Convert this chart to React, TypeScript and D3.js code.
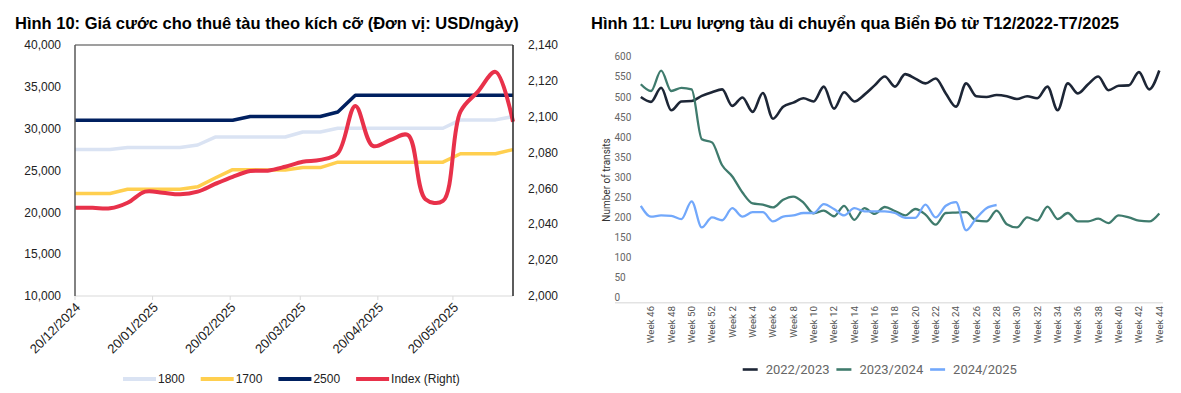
import React from "react";
import * as d3 from "d3";

// ---- Hình 10 data (weekly) ----
const rateDates = [
  "2024-12-20", "2024-12-27", "2025-01-03", "2025-01-10", "2025-01-17", "2025-01-24",
  "2025-01-31", "2025-02-07", "2025-02-14", "2025-02-21", "2025-02-28", "2025-03-07",
  "2025-03-14", "2025-03-21", "2025-03-28", "2025-04-04", "2025-04-11", "2025-04-18",
  "2025-04-25", "2025-05-02", "2025-05-09", "2025-05-16", "2025-05-23", "2025-05-30",
  "2025-06-06", "2025-06-13",
];
const size1800 = [
  27500, 27500, 27500, 27750, 27750, 27750, 27750, 28050, 29000, 29000, 29000, 29000, 29000,
  29600, 29600, 30050, 30050, 30050, 30050, 30050, 30050, 30050, 31050, 31050, 31050, 31450,
];
const size1700 = [
  22250, 22250, 22250, 22750, 22750, 22750, 22750, 23050, 24100, 25100, 25100, 25050, 25050,
  25350, 25350, 26000, 26000, 26000, 26000, 26000, 26000, 26000, 27000, 27000, 27000, 27500,
];
const size2500 = [
  31000, 31000, 31000, 31000, 31000, 31000, 31000, 31000, 31000, 31000, 31450, 31450, 31450,
  31450, 31450, 32000, 34000, 34000, 34000, 34000, 34000, 34000, 34000, 34000, 34000, 34000,
];
const indexRight = [
  2049.2, 2049.2, 2048.9, 2052, 2058.2, 2057.6, 2056.7, 2058.2, 2062.5, 2066.5, 2069.7, 2069.9,
  2072.1, 2074.9, 2075.9, 2079.6, 2106, 2083.7, 2087, 2089.8, 2054, 2053, 2102.8, 2114, 2125, 2097.2,
];
const leftTicks = [10000, 15000, 20000, 25000, 30000, 35000, 40000];
const rightTicks = [2000, 2020, 2040, 2060, 2080, 2100, 2120, 2140];
const dateTicks = ["2024-12-20", "2025-01-20", "2025-02-20", "2025-03-20", "2025-04-20", "2025-05-20"];

// ---- Hình 11 data (weekly transits) ----
const weeks = [
  "Week 45", "Week 46", "Week 47", "Week 48", "Week 49", "Week 50", "Week 51", "Week 52",
  "Week 1", "Week 2", "Week 3", "Week 4", "Week 5", "Week 6", "Week 7", "Week 8", "Week 9",
  "Week 10", "Week 11", "Week 12", "Week 13", "Week 14", "Week 15", "Week 16", "Week 17",
  "Week 18", "Week 19", "Week 20", "Week 21", "Week 22", "Week 23", "Week 24", "Week 25",
  "Week 26", "Week 27", "Week 28", "Week 29", "Week 30", "Week 31", "Week 32", "Week 33",
  "Week 34", "Week 35", "Week 36", "Week 37", "Week 38", "Week 39", "Week 40", "Week 41",
  "Week 42", "Week 43", "Week 44",
];
const transits2022 = [
  500, 488, 523, 467, 489, 490, 503, 512, 519, 478, 499, 463, 510, 446, 476, 486, 497, 489,
  526, 471, 512, 489, 506, 529, 551, 526, 557, 546, 534, 546, 509, 476, 534, 502, 500, 505,
  502, 495, 502, 497, 526, 467, 534, 509, 532, 551, 517, 528, 529, 562, 519, 566,
];
const transits2023 = [
  532, 515, 566, 515, 523, 519, 395, 387, 330, 302, 262, 235, 232, 225, 244, 252, 237, 210,
  217, 203, 229, 194, 223, 209, 226, 216, 205, 221, 207, 182, 211, 212, 213, 192, 190, 217,
  183, 175, 200, 192, 227, 196, 211, 190, 190, 197, 186, 205, 200, 192, 190, 210,
];
const transits2024 = [
  229, 202, 205, 204, 196, 240, 175, 200, 193, 223, 202, 213, 213, 190, 202, 205, 211, 211,
  233, 221, 205, 223, 215, 215, 215, 211, 199, 199, 232, 200, 229, 238, 168, 198, 223, 231,
];
const transitTicks = [0, 50, 100, 150, 200, 250, 300, 350, 400, 450, 500, 550, 600];
const weekLabels = weeks.filter((w) => +w.split(" ")[1] % 2 === 0);

const ARIAL = "'Liberation Sans', Arial, sans-serif";
const ROBOTO = "Roboto, 'Liberation Sans', sans-serif";

const parse = d3.utcParse("%Y-%m-%d");
const fmtDate = d3.utcFormat("%d/%m/%Y");
const fmtNum = d3.format(",");

function RateChart() {
  const x = d3
    .scaleUtc()
    .domain([parse(rateDates[0])!, parse(rateDates[rateDates.length - 1])!])
    .range([75, 513]);
  const yL = d3.scaleLinear().domain([10000, 40000]).range([296, 45]);
  const yR = d3.scaleLinear().domain([2000, 2140]).range([296, 45]);

  const lineL = d3
    .line<number>()
    .x((_, i) => x(parse(rateDates[i])!))
    .y((d) => yL(d));
  const lineR = d3
    .line<number>()
    .x((_, i) => x(parse(rateDates[i])!))
    .y((d) => yR(d))
    .curve(d3.curveCatmullRom.alpha(0.5));

  const series = [
    { name: "1800", data: size1800, color: "#dae3f3" },
    { name: "1700", data: size1700, color: "#ffcf4f" },
    { name: "2500", data: size2500, color: "#002060" },
  ];
  const legend = [
    { name: "1800", color: "#dae3f3" },
    { name: "1700", color: "#ffcf4f" },
    { name: "2500", color: "#002060" },
    { name: "Index (Right)", color: "#e8314a" },
  ];

  return (
    <g fontFamily={ARIAL}>
      <text x={15} y={29} fontSize={16.5} fontWeight="bold" fill="#000">
        Hình 10: Giá cước cho thuê tàu theo kích cỡ (Đơn vị: USD/ngày)
      </text>
      {leftTicks.map((t) => (
        <text key={t} x={61} y={yL(t)} dy="0.35em" textAnchor="end" fontSize={12} fill="#222">
          {fmtNum(t)}
        </text>
      ))}
      {rightTicks.map((t) => (
        <text key={t} x={528} y={yR(t)} dy="0.35em" textAnchor="start" fontSize={12} fill="#222">
          {fmtNum(t)}
        </text>
      ))}
      <line x1={75} x2={513} y1={296} y2={296} stroke="#d9d9d9" strokeWidth={1.2} />
      {dateTicks.map((d) => {
        const px = x(parse(d)!);
        return (
          <g key={d}>
            <line x1={px} x2={px} y1={296} y2={300} stroke="#d9d9d9" />
            <text
              transform={`translate(${px + 3},${305}) rotate(-45)`}
              textAnchor="end"
              dy="0.35em"
              fontSize={13}
              fill="#222"
            >
              {fmtDate(parse(d)!)}
            </text>
          </g>
        );
      })}
      {series.map((s) => (
        <path key={s.name} d={lineL(s.data)!} fill="none" stroke={s.color} strokeWidth={3.5} strokeLinejoin="round" />
      ))}
      <path d={lineR(indexRight)!} fill="none" stroke="#e8314a" strokeWidth={4} strokeLinejoin="round" />
      <line x1={75} x2={513} y1={45} y2={45} stroke="#404040" strokeWidth={1.2} />
      <line x1={75} x2={75} y1={45} y2={296} stroke="#595959" strokeWidth={1.5} />
      <line x1={513} x2={513} y1={45} y2={296} stroke="#262626" strokeWidth={1.5} />
      {legend.map((l, i) => {
        const lx = 123 + i * 77.7;
        return (
          <g key={l.name}>
            <line x1={lx} x2={lx + 33} y1={379} y2={379} stroke={l.color} strokeWidth={4} />
            <text x={lx + 35} y={379} dy="0.35em" fontSize={12} fill="#222">
              {l.name}
            </text>
          </g>
        );
      })}
    </g>
  );
}

function TransitChart() {
  const x = d3.scalePoint<string>().domain(weeks).range([640.8, 1159.3]);
  const y = d3.scaleLinear().domain([0, 600]).range([297.7, 56.9]);
  const line = d3
    .line<number>()
    .x((_, i) => x(weeks[i])!)
    .y((d) => y(d))
    .curve(d3.curveMonotoneX);

  const series = [
    { name: "2022/2023", data: transits2022, color: "#1d2636", width: 2.6 },
    { name: "2023/2024", data: transits2023, color: "#3f7b6d", width: 2.3 },
    { name: "2024/2025", data: transits2024, color: "#72a8fb", width: 2.3 },
  ];

  return (
    <g>
      <text x={591} y={29} fontSize={16.5} fontWeight="bold" fill="#000" fontFamily={ARIAL}>
        Hình 11: Lưu lượng tàu di chuyển qua Biển Đỏ từ T12/2022-T7/2025
      </text>
      <g fontFamily={ROBOTO}>
        {transitTicks.map((t) => (
          <text key={t} x={614.5} y={y(t)} dy="0.35em" fontSize={10} fill="#666">
            {t}
          </text>
        ))}
        <text transform="translate(606,180) rotate(-90)" textAnchor="middle" dy="0.35em" fontSize={10} fill="#333">
          Number of transits
        </text>
        <line x1={615} x2={1163} y1={302.7} y2={302.7} stroke="#e3e3e3" strokeWidth={1.5} />
        {weekLabels.map((w) => (
          <text
            key={w}
            transform={`translate(${x(w)},${306}) rotate(-90)`}
            textAnchor="end"
            dy="0.35em"
            fontSize={9.8}
            fill="#555"
          >
            {w}
          </text>
        ))}
        {series.map((s) => (
          <path key={s.name} d={line(s.data)!} fill="none" stroke={s.color} strokeWidth={s.width} strokeLinejoin="round" />
        ))}
        {series.map((s, i) => {
          const lx = 742.7 + i * 93.7;
          return (
            <g key={s.name}>
              <line x1={lx} x2={lx + 15} y1={369.5} y2={369.5} stroke={s.color} strokeWidth={2.6} />
              <text x={lx + 23} y={369.5} dy="0.35em" fontSize={13} fill="#666">
                {s.name}
              </text>
            </g>
          );
        })}
      </g>
    </g>
  );
}

export default function App() {
  return (
    <svg
      width={1181}
      height={393}
      viewBox="0 0 1181 393"
      style={{ position: "absolute", left: 0, top: 0, background: "#fff" }}
    >
      <rect width={1181} height={393} fill="#fff" />
      <RateChart />
      <TransitChart />
    </svg>
  );
}
